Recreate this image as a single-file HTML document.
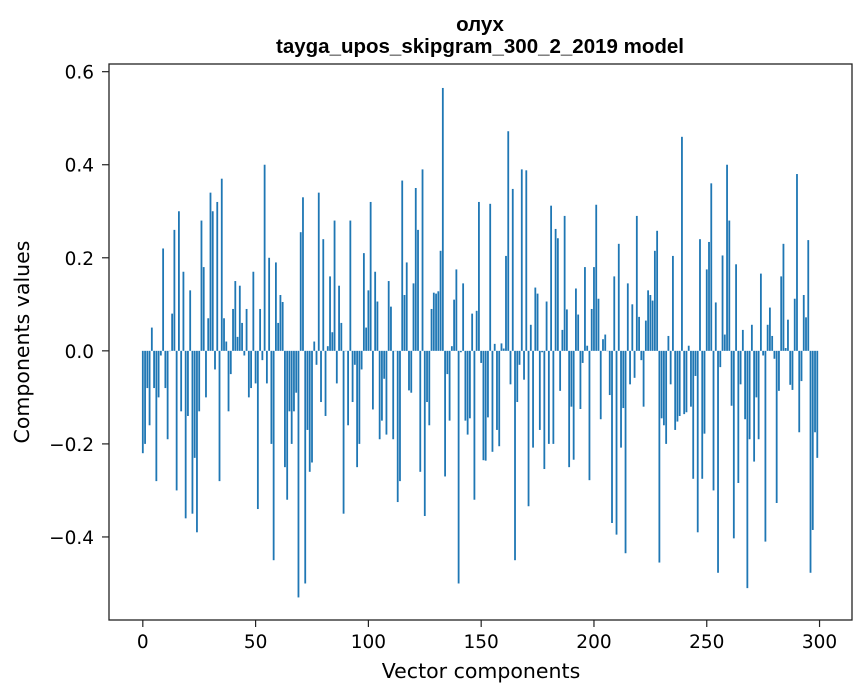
<!DOCTYPE html>
<html><head><meta charset="utf-8"><style>
html,body{margin:0;padding:0;background:#fff;}
svg{display:block;font-family:"DejaVu Sans","Liberation Sans",sans-serif;}
</style></head><body>
<svg id="chart" width="867" height="696" viewBox="0 0 867 696">
<text x="480" y="31" text-anchor="middle" font-size="20.5" font-weight="bold" font-family="Liberation Sans, sans-serif">олух</text>
<text x="480" y="53" text-anchor="middle" font-size="20.5" font-weight="bold" font-family="Liberation Sans, sans-serif">tayga_upos_skipgram_300_2_2019 model</text>
<g id="bars"></g>
<g id="axes"></g>
<rect x="109" y="64" width="743" height="556" fill="none" stroke="#222" stroke-width="1.3"/>
<text x="481" y="678" text-anchor="middle" font-size="20.5">Vector components</text>
<text transform="translate(29,342) rotate(-90)" text-anchor="middle" font-size="20.5">Components values</text>
</svg>
<script>
const values = [
-0.22,-0.20,-0.08,-0.16,0.05,-0.08,-0.28,-0.10,-0.01,0.22,
-0.08,-0.19,0.0,0.08,0.26,-0.30,0.30,-0.13,0.17,-0.36,
-0.14,0.13,-0.35,-0.23,-0.39,-0.13,0.28,0.18,-0.10,0.07,
0.34,0.30,-0.04,0.32,-0.28,0.37,0.07,0.02,-0.13,-0.05,
0.09,0.15,0.03,0.14,0.06,-0.01,0.09,-0.10,-0.08,0.17,
-0.07,-0.34,0.09,-0.02,0.40,-0.07,0.20,-0.20,-0.45,0.19,
0.06,0.12,0.105,-0.25,-0.32,-0.13,-0.20,-0.13,-0.09,-0.53,
0.255,0.33,-0.50,-0.17,-0.26,-0.24,0.02,-0.03,0.34,-0.11,
0.24,-0.14,0.01,0.16,0.04,0.28,-0.07,0.14,0.06,-0.35,
0.0,-0.16,0.28,-0.11,-0.03,-0.25,-0.20,-0.04,0.21,0.05,
0.13,0.32,-0.126,0.17,0.106,-0.19,-0.15,-0.06,-0.18,0.15,
0.095,-0.19,0.0,-0.325,-0.28,0.366,0.12,0.19,-0.085,-0.09,
0.145,0.35,0.26,-0.26,0.39,-0.355,-0.11,-0.16,0.09,0.125,
0.123,0.128,0.215,0.565,-0.27,-0.05,-0.15,0.01,0.11,0.175,
-0.50,-0.003,0.145,-0.15,-0.18,-0.145,0.08,-0.32,0.086,0.32,
-0.026,-0.235,-0.236,-0.143,0.316,-0.217,0.015,-0.17,-0.205,0.016,
0.005,0.204,0.472,-0.072,0.348,-0.45,-0.11,-0.03,0.39,-0.062,
0.388,-0.334,0.056,-0.208,0.136,0.123,-0.17,-0.003,-0.254,0.106,
-0.2,0.312,-0.2,0.262,0.242,-0.086,0.045,0.29,0.089,-0.25,
-0.12,-0.234,0.134,0.078,-0.125,-0.026,0.18,0.011,-0.278,0.09,
0.18,0.314,0.112,-0.147,0.025,0.035,0.0,-0.095,-0.37,0.16,
-0.395,0.23,-0.208,-0.123,-0.435,0.145,-0.072,0.1,-0.058,0.29,
0.073,-0.02,-0.12,0.065,0.13,0.12,0.108,0.215,0.258,-0.455,
-0.145,-0.16,-0.2,0.032,-0.072,0.204,-0.17,-0.152,-0.14,0.46,
-0.136,-0.132,0.011,-0.12,-0.275,-0.054,-0.39,0.24,-0.275,-0.178,
0.175,0.234,0.36,-0.30,0.104,-0.477,-0.035,0.205,0.035,0.40,
0.28,-0.118,-0.403,0.186,-0.284,-0.072,0.045,-0.147,-0.51,-0.19,
0.056,-0.238,-0.1,-0.19,0.166,-0.01,-0.41,0.056,0.093,0.032,
-0.017,-0.327,-0.086,0.16,0.23,0.006,0.067,-0.073,-0.084,0.112,
0.38,-0.175,-0.065,0.12,0.072,0.238,-0.477,-0.385,-0.175,-0.23
];
const xTicks = [0,50,100,150,200,250,300];
const yTicks = [-0.4,-0.2,0.0,0.2,0.4,0.6];
const yTickLabels = ["\u22120.4","\u22120.2","0.0","0.2","0.4","0.6"];

const NS = "http://www.w3.org/2000/svg";
const L = 109, R = 852, T = 64, B = 620;
const xMin = -14.99, xMax = 314.39, yMin = -0.5785, yMax = 0.6165;
function xs(v){ return L + (v - xMin) / (xMax - xMin) * (R - L); }
function ys(v){ return B - (v - yMin) / (yMax - yMin) * (B - T); }

const barsG = document.getElementById('bars');
const bw = xs(0.8) - xs(0);
values.forEach((v, i) => {
  const r = document.createElementNS(NS, 'rect');
  const y0 = ys(0), y1 = ys(v);
  r.setAttribute('x', xs(i - 0.4));
  r.setAttribute('y', Math.min(y0, y1));
  r.setAttribute('width', bw);
  r.setAttribute('height', Math.max(Math.abs(y1 - y0), 0.3));
  r.setAttribute('fill', '#1f77b4');
  
  
  barsG.appendChild(r);
});

const axesG = document.getElementById('axes');
xTicks.forEach(t => {
  const x = xs(t);
  const ln = document.createElementNS(NS, 'line');
  ln.setAttribute('x1', x); ln.setAttribute('x2', x);
  ln.setAttribute('y1', B); ln.setAttribute('y2', B + 7);
  ln.setAttribute('stroke', '#222'); ln.setAttribute('stroke-width', '1.2');
  
  
  axesG.appendChild(ln);
  const tx = document.createElementNS(NS, 'text');
  tx.setAttribute('x', x); tx.setAttribute('y', B + 28);
  tx.setAttribute('text-anchor', 'middle'); tx.setAttribute('font-size', '18.5');
  tx.textContent = String(t);
  
  
  axesG.appendChild(tx);
});
yTicks.forEach((t, k) => {
  const y = ys(t);
  const ln = document.createElementNS(NS, 'line');
  ln.setAttribute('x1', L - 7); ln.setAttribute('x2', L);
  ln.setAttribute('y1', y); ln.setAttribute('y2', y);
  ln.setAttribute('stroke', '#222'); ln.setAttribute('stroke-width', '1.2');
  
  
  axesG.appendChild(ln);
  const tx = document.createElementNS(NS, 'text');
  tx.setAttribute('x', L - 15); tx.setAttribute('y', y + 7);
  tx.setAttribute('text-anchor', 'end'); tx.setAttribute('font-size', '18.5');
  tx.textContent = yTickLabels[k];
  
  
  axesG.appendChild(tx);
});
</script>
</body></html>
